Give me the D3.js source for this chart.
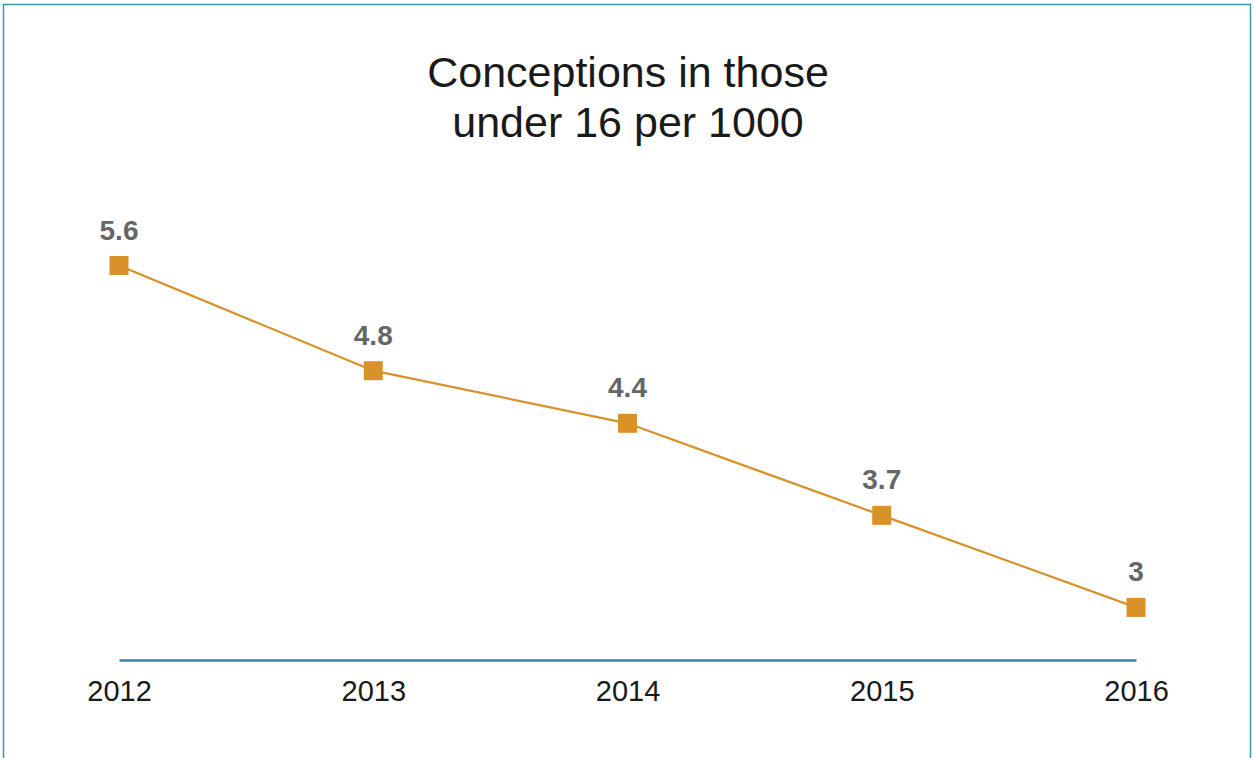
<!DOCTYPE html>
<html>
<head>
<meta charset="utf-8">
<script src="https://cdn.jsdelivr.net/npm/d3@7"></script>
<style>
  body { margin: 0; background: #fff; }
  svg { display: block; }
</style>
</head>
<body>
<div class="chart"></div>
<script>
var years = ["2012", "2013", "2014", "2015", "2016"];
var rates = [5.6, 4.8, 4.4, 3.7, 3];
var titleLines = ["Conceptions in those", "under 16 per 1000"];

var svgWidth = 1255;
var svgHeight = 758;

var svg = d3.select(".chart")
  .append("svg")
  .attr("width", svgWidth)
  .attr("height", svgHeight);

// outer frame
svg.append("rect")
  .attr("x", 3.5)
  .attr("y", 4.5)
  .attr("width", 1247)
  .attr("height", 760)
  .attr("fill", "none")
  .attr("stroke", "#3a97a5")
  .attr("stroke-width", 1.5);

var data = years.map((y, i) => ({ year: y, value: rates[i] }));

var x = d3.scalePoint()
  .domain(years)
  .range([119, 1136]);

var y = d3.scaleLinear()
  .domain([2.6, 5.6])
  .range([660, 265.5]);

// title
svg.append("text")
  .attr("x", 628)
  .attr("y", 87)
  .attr("text-anchor", "middle")
  .attr("font-family", "Liberation Sans, Arial, sans-serif")
  .attr("font-size", 43)
  .attr("fill", "#1a1a1a")
  .selectAll("tspan")
  .data(titleLines)
  .enter()
  .append("tspan")
  .attr("x", 628)
  .attr("dy", (d, i) => i === 0 ? 0 : 50)
  .text(d => d);

// x axis
var bottomAxis = d3.axisBottom(x).tickSize(0).tickPadding(20);
var axisG = svg.append("g")
  .attr("transform", `translate(0, ${y(2.6)})`)
  .call(bottomAxis);
axisG.select(".domain")
  .attr("stroke", "#31859c")
  .attr("stroke-width", 2.5);
axisG.selectAll("text")
  .attr("font-family", "Liberation Sans, Arial, sans-serif")
  .attr("font-size", 29)
  .attr("fill", "#1a1a1a");

// line
var line = d3.line()
  .x(d => x(d.year))
  .y(d => y(d.value));

svg.append("path")
  .datum(data)
  .attr("d", line)
  .attr("fill", "none")
  .attr("stroke", "#d9912a")
  .attr("stroke-width", 2.2);

// markers
svg.selectAll("rect.marker")
  .data(data)
  .enter()
  .append("rect")
  .attr("class", "marker")
  .attr("x", d => x(d.year) - 9.5)
  .attr("y", d => y(d.value) - 9.5)
  .attr("width", 19)
  .attr("height", 19)
  .attr("fill", "#d9912a");

// value labels
svg.selectAll("text.label")
  .data(data)
  .enter()
  .append("text")
  .attr("class", "label")
  .attr("x", d => x(d.year))
  .attr("y", d => y(d.value) - 26)
  .attr("text-anchor", "middle")
  .attr("font-family", "Liberation Sans, Arial, sans-serif")
  .attr("font-weight", "bold")
  .attr("font-size", 28)
  .attr("fill", "#666")
  .text(d => d.value);
</script>
</body>
</html>
